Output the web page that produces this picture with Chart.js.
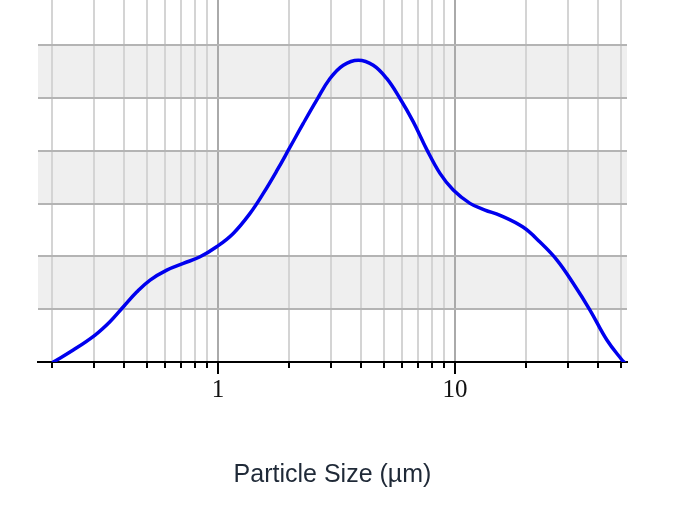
<!DOCTYPE html>
<html>
<head>
<meta charset="utf-8">
<script src="https://cdn.jsdelivr.net/npm/chart.js@4"></script>
<style>
  html, body { margin: 0; padding: 0; background: #ffffff; }
  #c { display: block; }
</style>
</head>
<body>
<canvas id="c" width="680" height="510"></canvas>
<script>
// Particle sizes (µm) and volume density values
const sizes = [0.202, 0.245, 0.303, 0.350, 0.399, 0.454, 0.517, 0.608, 0.714, 0.840, 0.987, 1.160, 1.365, 1.553, 1.769, 2.013, 2.290, 2.609, 2.969, 3.379, 3.908, 4.521, 5.151, 5.861, 6.672, 7.597, 8.645, 9.835, 11.57, 13.39, 15.5, 19.36, 22.84, 26.94, 31.48, 37.12, 43.76, 50.68, 51.7];
const volume = [0, 0.227, 0.511, 0.763, 1.047, 1.325, 1.553, 1.742, 1.869, 1.994, 2.184, 2.437, 2.816, 3.195, 3.62, 4.07, 4.521, 4.962, 5.373, 5.625, 5.720, 5.625, 5.373, 4.994, 4.551, 4.03, 3.574, 3.258, 3.006, 2.88, 2.78, 2.557, 2.273, 1.932, 1.496, 0.985, 0.417, 0.038, 0];

// Axis ticks
const xTickValues = [0.2, 0.3, 0.4, 0.5, 0.6, 0.7, 0.8, 0.9, 1, 2, 3, 4, 5, 6, 7, 8, 9, 10, 20, 30, 40, 50];
const xMajorTicks = [1, 10];
const xTickLabels = ['1', '10'];
const yTickValues = [0, 1, 2, 3, 4, 5, 6];
const yBands = [[1, 2], [3, 4], [5, 6]];
const xMin = 0.174, xMax = 53.2, yMin = 0, yMax = 6.86;
const xTitle = 'Particle Size (µm)';

const bandPlugin = {
  id: 'bands',
  beforeDraw(chart) {
    const { ctx, chartArea, scales } = chart;
    ctx.save();
    ctx.fillStyle = '#efefef';
    yBands.forEach(([a, b]) => {
      const y1 = scales.y.getPixelForValue(b);
      const y2 = scales.y.getPixelForValue(a);
      ctx.fillRect(chartArea.left, y1, chartArea.right - chartArea.left, y2 - y1);
    });
    ctx.restore();
  }
};

const tickPlugin = {
  id: 'tickMarks',
  afterDraw(chart) {
    const { ctx, chartArea, scales } = chart;
    ctx.save();
    ctx.strokeStyle = '#000000';
    ctx.lineWidth = 2;
    xTickValues.forEach(v => {
      const x = Math.round(scales.x.getPixelForValue(v));
      const len = xMajorTicks.includes(v) ? 12 : 6;
      ctx.beginPath();
      ctx.moveTo(x, chartArea.bottom);
      ctx.lineTo(x, chartArea.bottom + len);
      ctx.stroke();
    });
    ctx.restore();
  }
};

new Chart(document.getElementById('c'), {
  type: 'line',
  data: {
    datasets: [{
      data: sizes.map((s, i) => ({ x: s, y: volume[i] })),
      borderColor: '#0000ee',
      borderWidth: 3.5,
      pointRadius: 0,
      fill: false,
      tension: 0.4,
      borderJoinStyle: 'round',
      borderCapStyle: 'round'
    }]
  },
  options: {
    responsive: false,
    animation: false,
    layout: { padding: { left: 38, right: 53, top: 0, bottom: 20 } },
    plugins: {
      legend: { display: false },
      tooltip: { enabled: false },
      title: {
        display: true,
        position: 'bottom',
        text: xTitle,
        color: '#1f2937',
        font: { family: 'Liberation Sans', size: 25, weight: 'normal' },
        padding: { top: 0, bottom: 0 }
      }
    },
    scales: {
      x: {
        type: 'logarithmic',
        min: xMin,
        max: xMax,
        afterBuildTicks: s => { s.ticks = xTickValues.map(v => ({ value: v, major: xMajorTicks.includes(v) })); },
        afterFit: s => { s.height = 98; },
        ticks: {
          autoSkip: false,
          maxRotation: 0,
          padding: 13,
          color: '#111111',
          font: { family: 'Liberation Serif', size: 25 },
          callback: v => { const i = xMajorTicks.indexOf(v); return i >= 0 ? xTickLabels[i] : ''; }
        },
        grid: {
          drawTicks: false,
          lineWidth: 2,
          color: ctx => (ctx.tick && xMajorTicks.includes(ctx.tick.value)) ? '#aaaaaa' : '#d4d4d4'
        },
        border: { display: true, color: '#000000', width: 2 }
      },
      y: {
        min: yMin,
        max: yMax,
        afterBuildTicks: s => { s.ticks = yTickValues.map(v => ({ value: v })); },
        afterFit: s => { s.width = 0; },
        ticks: { display: false },
        grid: { drawTicks: false, lineWidth: 2, color: '#b4b4b4' },
        border: { display: false }
      }
    }
  },
  plugins: [bandPlugin, tickPlugin]
});
</script>
</body>
</html>
